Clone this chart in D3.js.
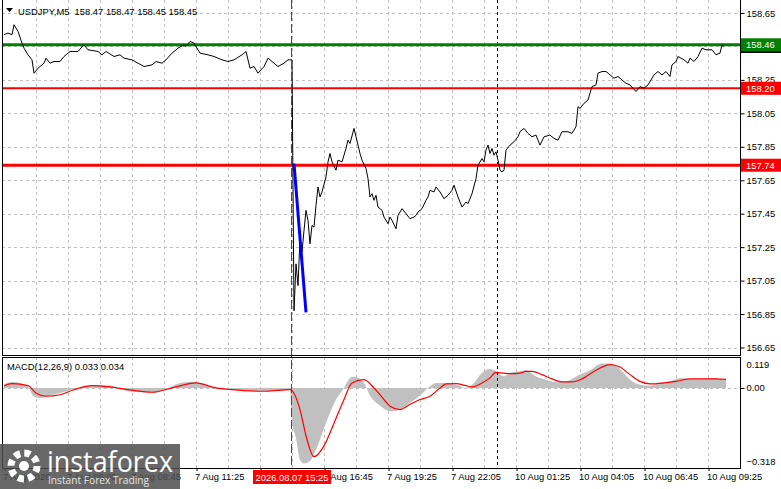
<!DOCTYPE html>
<html>
<head>
<meta charset="utf-8">
<script src="https://cdn.jsdelivr.net/npm/d3@7"></script>
<style>
body { margin: 0; background: #fff; overflow: hidden; }
svg { display: block; font-family: "Liberation Sans", Arial, sans-serif; }
</style>
</head>
<body>
<div id="vis"></div>
<script>

// ---- data ----
const priceBars = [0,2,4,5,7,9,10,12,14,15,17,20,21,23,25,28,30,33,37,40,42,47,49,51,55,58,60,64,67,70,74,76,79,81,84,85,87,90,91,93,95,98,102,105,109,112,115,119,121,123,125,127,130,132,135,137,140,142,144,
  145,146,147,148,149,150,151,152,153,154,155,156,157,158,159,161,162,163,164,166,167,169,171,172,173,175,176,178,179,181,182,183,184,185,186,187,189,190,192,193,194,196,197,199,201,203,205,206,207,209,211,212,213,215,216,218,220,222,224,225,227,229,231,232,234,236,237,239,240,241,242,243,244,245,246,247,248,249,250,
  251,253,255,257,258,260,262,264,266,268,270,273,275,277,279,282,284,286,287,288,290,292,293,294,296,297,299,301,303,305,307,309,311,313,316,318,320,322,325,327,329,331,333,334,336,337,340,342,343,345,347,349,351,354,356,358,359,360];
const priceCloses = [158.52,158.53,158.52,158.58,158.54,158.47,158.44,158.40,158.37,158.29,158.32,158.35,158.38,158.35,158.36,158.36,158.39,158.42,158.42,158.46,158.43,158.42,158.40,158.42,158.39,158.40,158.38,158.37,158.35,158.33,158.34,158.36,158.35,158.37,158.41,158.42,158.44,158.46,158.45,158.48,158.47,158.41,158.40,158.39,158.37,158.36,158.37,158.40,158.42,158.32,158.33,158.29,158.33,158.38,158.35,158.33,158.35,158.37,158.37,
  156.87,157.15,157.02,157.30,157.22,157.35,157.47,157.41,157.27,157.38,157.37,157.50,157.61,157.55,157.58,157.67,157.76,157.81,157.76,157.71,157.77,157.76,157.84,157.89,157.87,157.96,157.91,157.81,157.77,157.72,157.66,157.55,157.57,157.53,157.56,157.49,157.47,157.43,157.39,157.43,157.41,157.36,157.44,157.48,157.45,157.42,157.43,157.44,157.46,157.48,157.53,157.55,157.59,157.58,157.61,157.58,157.54,157.56,157.59,157.62,157.55,157.49,157.52,157.51,157.57,157.66,157.74,157.78,157.76,157.83,157.86,157.81,157.84,157.80,157.82,157.77,157.71,157.70,157.71,
  157.83,157.86,157.88,157.91,157.94,157.96,157.93,157.91,157.92,157.86,157.91,157.92,157.90,157.89,157.94,157.94,157.93,157.97,158.09,158.08,158.11,158.13,158.17,158.21,158.22,158.29,158.30,158.30,158.28,158.26,158.27,158.25,158.23,158.22,158.18,158.21,158.20,158.22,158.28,158.30,158.28,158.30,158.27,158.34,158.36,158.39,158.37,158.35,158.38,158.36,158.39,158.44,158.43,158.43,158.40,158.41,158.46,158.45];

const arrowBars = [145, 151];
const arrowPrices = [157.75, 156.86];

const levelPrices = [158.46, 158.20, 157.74];
const priceTicks = [158.65, 158.45, 158.25, 158.05, 157.85, 157.65, 157.45, 157.25, 157.05, 156.85, 156.65];

const histBars = [0,4,8,12,15,18,23,28,33,40,45,53,58,64,73,80,86,93,98,103,108,118,128,138,143,144,146,148,150,153,156,161,166,170,173,175,180,183,188,193,198,203,208,213,216,221,226,231,235,239,243,246,250,253,258,261,266,271,276,281,286,293,299,303,308,313,318,323,328,333,338,343,348,353,358,361];
const histValues = [0.015,0.024,0.020,0.005,-0.035,-0.040,-0.030,-0.020,-0.010,0.005,0.010,0.010,-0.005,-0.015,-0.018,-0.010,0.015,0.025,0.020,0.005,-0.005,-0.008,-0.012,-0.010,-0.008,-0.130,-0.200,-0.285,-0.300,-0.290,-0.245,-0.140,-0.046,0.000,0.040,0.045,0.020,-0.030,-0.070,-0.093,-0.087,-0.060,-0.030,0.007,0.020,0.020,0.013,0.000,0.020,0.060,0.075,0.066,0.046,0.060,0.066,0.070,0.046,0.033,0.023,0.026,0.046,0.070,0.097,0.097,0.074,0.033,0.013,0.009,0.020,0.026,0.040,0.036,0.036,0.040,0.036,0.033];

const signalBars = [0,4,12,16,21,28,35,44,53,64,74,84,96,106,114,131,143,148,151,155,160,165,170,174,180,185,190,193,198,203,208,213,218,221,226,231,234,239,243,246,250,253,258,261,264,269,274,279,284,289,296,303,308,313,318,323,330,336,343,349,356,361];
const signalValues = [0.008,0.017,0.009,-0.020,-0.033,-0.027,-0.007,0.009,0.004,-0.009,-0.017,0.000,0.020,0.000,-0.007,-0.013,-0.007,-0.086,-0.190,-0.273,-0.230,-0.140,-0.046,0.020,0.033,0.000,-0.046,-0.073,-0.086,-0.066,-0.046,-0.033,0.000,0.016,0.017,0.009,0.004,0.020,0.040,0.062,0.059,0.057,0.059,0.066,0.066,0.053,0.036,0.024,0.024,0.036,0.070,0.093,0.083,0.053,0.026,0.016,0.020,0.026,0.036,0.036,0.036,0.034];
const macdTicks = [0.119, 0, -0.318];

// the 14:05 label sits under the red time box in the original, so it has no text
const xTickBars = [0,32,64,96,128,160,192,224,256,288,320,352];
const xTickLabels = ["7 Aug 2026","7 Aug 06:05","7 Aug 08:45","7 Aug 11:25","","7 Aug 16:45","7 Aug 19:25","7 Aug 22:05","10 Aug 01:25","10 Aug 04:05","10 Aug 06:45","10 Aug 09:25"];

const eventBar = 144;      // 2026.08.07 15:25
const weekBar = 246.5;     // period separator
const eventLabel = "2026.08.07 15:25";
const titleText = "USDJPY,M5  158.47 158.47 158.45 158.45";
const macdText = "MACD(12,26,9) 0.033 0.034";

// ---- layout ----
const FRAME_WIDTH = 781;
const FRAME_HEIGHT = 489;
const LEFT = 2, RIGHT = 740;
const MAIN = {top: 0, bottom: 355};
const SUB = {top: 357, bottom: 468};
const FONT = 9.4;

const FRAME = d3.select("#vis").append("svg")
    .attr("width", FRAME_WIDTH)
    .attr("height", FRAME_HEIGHT);

const X_SCALE = d3.scaleLinear().domain([0, 368]).range([4, 740]);
const Y_MAIN = d3.scaleLinear().domain([156.65, 158.65]).range([347.5, 13]);
const Y_MACD = d3.scaleLinear().domain([-0.318, 0.119]).range([468, 358]);

const GRID = "#c0c0c0";

// clip paths
const defs = FRAME.append("defs");
defs.append("clipPath").attr("id", "clipMain").append("rect")
    .attr("x", LEFT).attr("y", MAIN.top).attr("width", RIGHT - LEFT).attr("height", MAIN.bottom - MAIN.top);
defs.append("clipPath").attr("id", "clipSub").append("rect")
    .attr("x", LEFT).attr("y", SUB.top).attr("width", RIGHT - LEFT).attr("height", SUB.bottom - SUB.top);

// grid
const gridBars = d3.range(16, 353, 16);
const gridG = FRAME.append("g").attr("stroke", GRID).attr("stroke-dasharray", "3,3").attr("shape-rendering", "crispEdges");
gridG.selectAll(".hg").data(priceTicks).join("line")
    .attr("x1", LEFT).attr("x2", RIGHT)
    .attr("y1", d => Math.round(Y_MAIN(d)) + 0.5).attr("y2", d => Math.round(Y_MAIN(d)) + 0.5);
gridG.selectAll(".vm").data(gridBars).join("line")
    .attr("x1", d => Math.round(X_SCALE(d)) + 0.5).attr("x2", d => Math.round(X_SCALE(d)) + 0.5)
    .attr("y1", MAIN.top).attr("y2", MAIN.bottom);
gridG.selectAll(".vs").data(gridBars).join("line")
    .attr("x1", d => Math.round(X_SCALE(d)) + 0.5).attr("x2", d => Math.round(X_SCALE(d)) + 0.5)
    .attr("y1", SUB.top).attr("y2", SUB.bottom);
gridG.append("line")
    .attr("x1", LEFT).attr("x2", RIGHT)
    .attr("y1", Math.round(Y_MACD(0)) + 0.5).attr("y2", Math.round(Y_MACD(0)) + 0.5);

// MACD histogram (drawn as filled envelope) and signal
const histData = d3.zip(histBars, histValues);
FRAME.append("path")
    .datum(histData)
    .attr("clip-path", "url(#clipSub)")
    .attr("fill", "#c0c0c0")
    .attr("d", d3.area()
        .x(d => X_SCALE(d[0]))
        .y0(Y_MACD(0))
        .y1(d => Y_MACD(d[1]))
        .curve(d3.curveMonotoneX));

FRAME.append("path")
    .datum(d3.zip(signalBars, signalValues))
    .attr("clip-path", "url(#clipSub)")
    .attr("fill", "none")
    .attr("stroke", "#ff0000")
    .attr("stroke-width", 1.2)
    .attr("d", d3.line()
        .x(d => X_SCALE(d[0]))
        .y(d => Y_MACD(d[1]))
        .curve(d3.curveMonotoneX));

// vertical markers
FRAME.append("line")
    .attr("x1", Math.round(X_SCALE(weekBar)) + 0.5).attr("x2", Math.round(X_SCALE(weekBar)) + 0.5)
    .attr("y1", MAIN.top).attr("y2", SUB.bottom)
    .attr("stroke", "#000").attr("stroke-dasharray", "3,3").attr("shape-rendering", "crispEdges");

// levels
const levelColor = (p) => p === 158.46 ? "#008000" : "#ff0000";
const levelWidth = (p) => p === 158.20 ? 2 : 3;
FRAME.append("g").selectAll("line").data(levelPrices).join("line")
    .attr("x1", LEFT).attr("x2", RIGHT)
    .attr("y1", d => Y_MAIN(d)).attr("y2", d => Y_MAIN(d))
    .attr("stroke", d => levelColor(d))
    .attr("stroke-width", d => levelWidth(d));

// price line
FRAME.append("path")
    .datum(d3.zip(priceBars, priceCloses))
    .attr("clip-path", "url(#clipMain)")
    .attr("fill", "none")
    .attr("stroke", "#000")
    .attr("stroke-width", 1)
    .attr("d", d3.line().x(d => X_SCALE(d[0])).y(d => Y_MAIN(d[1])));

// blue arrow line
FRAME.append("path")
    .datum(d3.zip(arrowBars, arrowPrices))
    .attr("fill", "none")
    .attr("stroke", "#0000ff")
    .attr("stroke-width", 3)
    .attr("d", d3.line().x(d => X_SCALE(d[0])).y(d => Y_MAIN(d[1])));

// event line (red dashed, through both panes)
FRAME.append("line")
    .attr("x1", Math.round(X_SCALE(eventBar)) - 0.5).attr("x2", Math.round(X_SCALE(eventBar)) - 0.5)
    .attr("y1", MAIN.top).attr("y2", SUB.bottom)
    .attr("stroke", "#ff0000").attr("stroke-dasharray", "9,3").attr("shape-rendering", "crispEdges");

// frames
const frameG = FRAME.append("g").attr("stroke", "#000").attr("fill", "none").attr("shape-rendering", "crispEdges");
frameG.append("rect").attr("x", LEFT + 0.5).attr("y", -1).attr("width", RIGHT - LEFT).attr("height", MAIN.bottom + 1.5);
frameG.append("rect").attr("x", LEFT + 0.5).attr("y", SUB.top + 0.5).attr("width", RIGHT - LEFT).attr("height", SUB.bottom - SUB.top);

// right price axis
const yAxis = d3.axisRight(Y_MAIN)
    .tickValues(priceTicks)
    .tickSize(4)
    .tickFormat(d3.format(".2f"));
const yAxisG = FRAME.append("g")
    .attr("transform", `translate(${RIGHT + 0.5},0)`)
    .call(yAxis);
yAxisG.select(".domain").remove();
yAxisG.selectAll("text").attr("font-size", FONT).attr("font-family", "Liberation Sans, Arial").attr("x", 6).attr("fill", "#000");

// level labels on axis
const labelG = FRAME.append("g");
labelG.append("rect")
    .attr("x", RIGHT + 1).attr("y", Y_MAIN(158.45) - 6.5)
    .attr("width", 40).attr("height", 13).attr("fill", "#000");
labelG.selectAll(".lvl").data(levelPrices).join("rect")
    .attr("x", RIGHT + 1).attr("y", d => Y_MAIN(d) - 6.5)
    .attr("width", 40).attr("height", 13)
    .attr("fill", d => levelColor(d));
labelG.selectAll("text").data(levelPrices).join("text")
    .attr("x", RIGHT + 6).attr("y", d => Y_MAIN(d) + 3.5)
    .attr("font-size", FONT).attr("fill", "#fff")
    .text(d => d3.format(".2f")(d));

// MACD axis
const mAxis = d3.axisRight(Y_MACD)
    .tickValues(macdTicks)
    .tickSize(4)
    .tickFormat(d => d === 0 ? "0.00" : d3.format(".3f")(d));
const mAxisG = FRAME.append("g")
    .attr("transform", `translate(${RIGHT + 0.5},0)`)
    .call(mAxis);
mAxisG.select(".domain").remove();
mAxisG.selectAll(".tick line").attr("stroke", d => d === 0 ? "#000" : "none");
mAxisG.selectAll("text")
    .attr("font-size", FONT).attr("x", 6).attr("fill", "#000")
    .attr("dy", d => d > 0 ? "1.05em" : d < 0 ? "-0.35em" : "0.32em");

// x axis
const xAxis = d3.axisBottom(X_SCALE)
    .tickValues(xTickBars)
    .tickSize(3)
    .tickFormat((d, i) => xTickLabels[i]);
const xAxisG = FRAME.append("g")
    .attr("transform", `translate(0.5,${SUB.bottom})`)
    .call(xAxis);
xAxisG.select(".domain").remove();
xAxisG.selectAll("text")
    .attr("font-size", FONT).attr("fill", "#000")
    .attr("text-anchor", "start").attr("x", -2).attr("y", 5).attr("dy", "0.71em");

// event label box on x axis
const evX = X_SCALE(eventBar);
FRAME.append("rect")
    .attr("x", evX - 39).attr("y", SUB.bottom + 2)
    .attr("width", 78).attr("height", 14).attr("fill", "#ff0000");
FRAME.append("text")
    .attr("x", evX).attr("y", SUB.bottom + 12.5)
    .attr("text-anchor", "middle").attr("font-size", FONT).attr("fill", "#fff")
    .text(eventLabel);

// titles
FRAME.append("path")
    .attr("d", "M6,8 L13,8 L9.5,12 Z").attr("fill", "#000");
FRAME.append("text")
    .attr("x", 18).attr("y", 15)
    .attr("font-size", FONT).attr("fill", "#000")
    .style("white-space", "pre")
    .text(titleText);
FRAME.append("text")
    .attr("x", 7).attr("y", 370)
    .attr("font-size", FONT).attr("fill", "#000")
    .text(macdText);

// logo watermark
const logo = FRAME.append("g");
logo.append("rect")
    .attr("x", 0).attr("y", 444).attr("width", 180).attr("height", 45)
    .attr("fill", "#4d4d4d").attr("opacity", 0.85);
logo.append("circle")
    .attr("cx", 24).attr("cy", 466).attr("r", 13)
    .attr("fill", "none").attr("stroke", "#fff").attr("stroke-width", 7)
    .attr("stroke-dasharray", "6,4.2");
logo.append("circle")
    .attr("cx", 24).attr("cy", 466).attr("r", 5).attr("fill", "#fff");
logo.append("text")
    .attr("x", 47).attr("y", 472)
    .attr("font-family", "Open Sans, sans-serif")
    .attr("font-size", 29).attr("fill", "#fff")
    .attr("textLength", 126).attr("lengthAdjust", "spacingAndGlyphs")
    .text("instaforex");
logo.append("text")
    .attr("x", 48).attr("y", 484)
    .attr("font-family", "Open Sans, sans-serif")
    .attr("font-size", 11).attr("fill", "#e6e6e6")
    .attr("textLength", 101).attr("lengthAdjust", "spacingAndGlyphs")
    .text("Instant Forex Trading");

</script>
</body>
</html>
